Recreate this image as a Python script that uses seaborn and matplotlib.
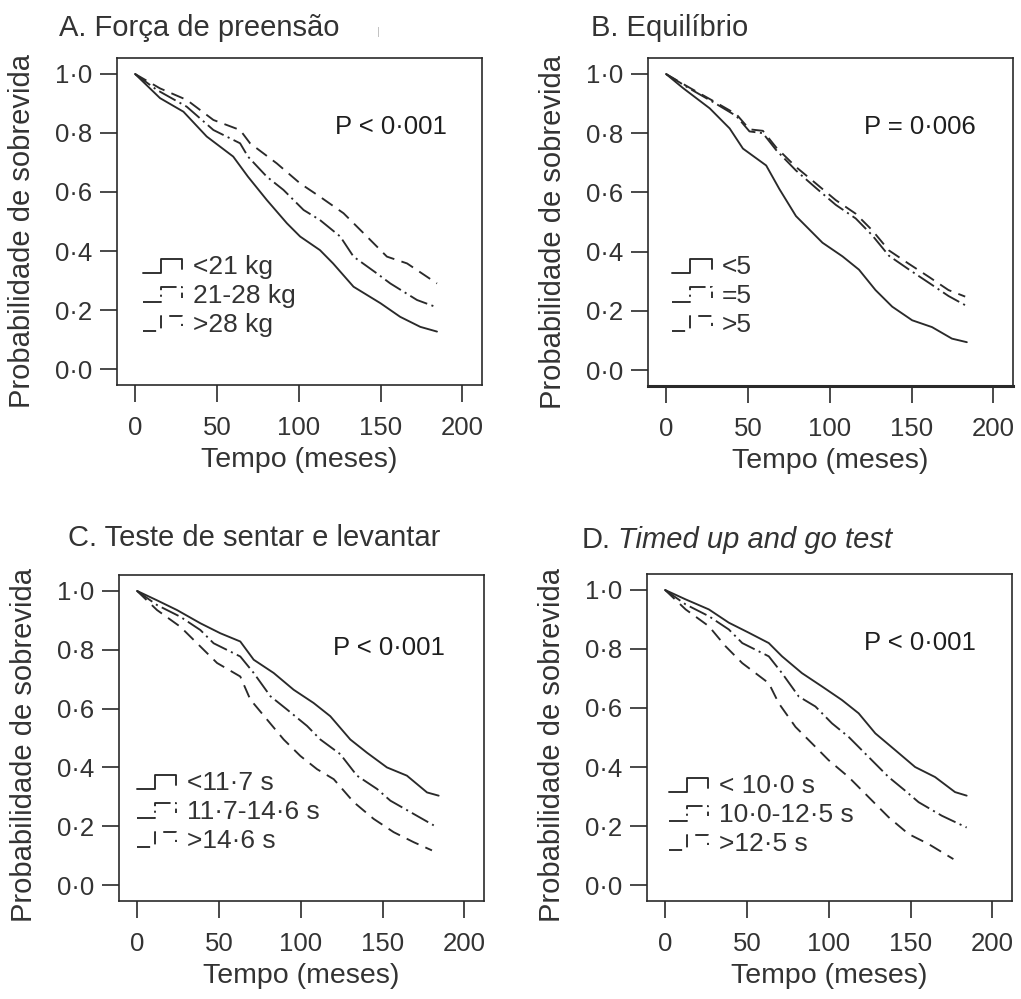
import matplotlib
matplotlib.use("Agg")
import matplotlib.pyplot as plt
import seaborn as sns
from matplotlib.legend_handler import HandlerBase
from matplotlib.lines import Line2D

# ---------------- data ----------------
# Panel A: Força de preensão
a_lbl = ["<21 kg", "21-28 kg", ">28 kg"]
a1_t = [0, 15.3, 29.6, 43.8, 60, 69, 80.5, 92.8, 100.9, 113, 121, 133.5, 150, 162, 174.3, 184.5]
a1_s = [1.0, 0.918, 0.872, 0.788, 0.72, 0.652, 0.573, 0.494, 0.449, 0.403, 0.358, 0.279, 0.223, 0.177, 0.143, 0.127]
a2_t = [0, 13.3, 31.6, 47.9, 64.2, 69, 80.5, 90.7, 103, 113, 125.4, 133.5, 147.8, 156, 172.3, 183.5]
a2_s = [1.0, 0.946, 0.889, 0.81, 0.765, 0.72, 0.652, 0.607, 0.539, 0.505, 0.449, 0.381, 0.324, 0.29, 0.234, 0.211]
a3_t = [0, 15.3, 31.6, 47.9, 64.2, 70.3, 86.6, 100.9, 113, 127.4, 141.7, 153.9, 166.2, 184.5]
a3_s = [1.0, 0.951, 0.912, 0.844, 0.81, 0.765, 0.697, 0.629, 0.584, 0.528, 0.449, 0.381, 0.358, 0.29]

# Panel B: Equilíbrio
b_lbl = ["<5", "=5", ">5"]
b1_t = [0, 10.5, 26.7, 38.9, 47, 61.2, 69.3, 79.4, 87.5, 95.6, 107.8, 117.9, 128, 138.2, 150.4, 162.5, 174.7, 183.8]
b1_s = [1.0, 0.952, 0.884, 0.816, 0.748, 0.691, 0.611, 0.52, 0.475, 0.43, 0.384, 0.339, 0.27, 0.214, 0.168, 0.145, 0.106, 0.094]
b2_t = [0, 14.6, 28.8, 43, 51, 59.2, 67.3, 79.4, 91.6, 103.7, 115.9, 126, 136.2, 148.3, 160.5, 172.6, 182.8]
b2_s = [1.0, 0.95, 0.905, 0.858, 0.806, 0.8, 0.743, 0.674, 0.615, 0.558, 0.512, 0.455, 0.386, 0.34, 0.295, 0.25, 0.219]
b3_t = [0, 14.6, 28.8, 43, 51, 59.2, 67.3, 79.4, 91.6, 103.7, 115.9, 126, 136.2, 148.3, 160.5, 172.6, 182.8]
b3_s = [1.0, 0.953, 0.909, 0.864, 0.813, 0.808, 0.752, 0.686, 0.63, 0.574, 0.528, 0.472, 0.404, 0.359, 0.315, 0.27, 0.248]

# Panel C: Teste de sentar e levantar
c_lbl = ["<11·7 s", "11·7-14·6 s", ">14·6 s"]
c1_t = [0, 12.2, 24.4, 38.7, 50.9, 63.1, 71.3, 83.5, 95.7, 107.9, 118.1, 130.3, 140.5, 152.7, 164.9, 177.2, 184.3]
c1_s = [1.0, 0.968, 0.935, 0.89, 0.856, 0.828, 0.766, 0.721, 0.664, 0.619, 0.574, 0.495, 0.45, 0.4, 0.372, 0.315, 0.304]
c2_t = [0, 12.2, 26.5, 38.7, 46.8, 63.1, 71.3, 81.5, 91.6, 103.9, 112, 124.2, 134.4, 146.6, 154.8, 169, 181.3]
c2_s = [1.0, 0.952, 0.912, 0.867, 0.822, 0.777, 0.721, 0.642, 0.597, 0.541, 0.495, 0.445, 0.372, 0.327, 0.287, 0.242, 0.203]
c3_t = [0, 12.2, 26.5, 36.7, 48.9, 63.1, 69.2, 79.4, 89.6, 99.8, 110, 120.2, 132.4, 144.6, 156.8, 169, 180.2]
c3_s = [1.0, 0.935, 0.878, 0.822, 0.755, 0.709, 0.631, 0.563, 0.495, 0.439, 0.394, 0.36, 0.282, 0.225, 0.18, 0.146, 0.118]

# Panel D: Timed up and go test
d_lbl = ["< 10·0 s", "10·0-12·5 s", ">12·5 s"]
d1_t = [0, 12.6, 26.8, 39, 51.2, 63.4, 71.5, 83.7, 95.9, 108.1, 118.3, 128.5, 140.7, 152.8, 165, 177.2, 184.3]
d1_s = [1.0, 0.968, 0.934, 0.889, 0.855, 0.82, 0.775, 0.718, 0.673, 0.627, 0.582, 0.514, 0.457, 0.4, 0.366, 0.315, 0.303]
d2_t = [0, 12.6, 26.8, 39, 47.2, 63.4, 71.5, 81.7, 91.9, 102, 112.2, 124.4, 136.6, 146.7, 154.9, 169.1, 184.3]
d2_s = [1.0, 0.951, 0.911, 0.866, 0.82, 0.775, 0.718, 0.639, 0.605, 0.548, 0.502, 0.434, 0.366, 0.32, 0.281, 0.235, 0.195]
d3_t = [0, 12.6, 26.8, 37, 47.2, 63.4, 69.5, 79.7, 89.8, 100, 112.2, 124.4, 136.6, 148.8, 161, 176.2]
d3_s = [1.0, 0.934, 0.877, 0.809, 0.752, 0.684, 0.616, 0.536, 0.48, 0.423, 0.366, 0.298, 0.23, 0.173, 0.139, 0.088]

titles = ["A. Força de preensão", "B. Equilíbrio", "C. Teste de sentar e levantar", "D."]
title_italic_d = "Timed up and go test"
p_texts = ["P < 0·001", "P = 0·006", "P < 0·001", "P < 0·001"]
x_ticks = [0, 50, 100, 150, 200]
x_ticklabels = ["0", "50", "100", "150", "200"]
y_ticks = [0.0, 0.2, 0.4, 0.6, 0.8, 1.0]
y_ticklabels = ["0·0", "0·2", "0·4", "0·6", "0·8", "1·0"]
x_label = "Tempo (meses)"
y_label = "Probabilidade de sobrevida"

# ---------------- styling ----------------
sns.set_theme(style="ticks")
plt.rcParams["font.family"] = ["Liberation Sans", "DejaVu Sans"]
TXT = "#333333"
LINE = "#2a2a2a"
W, H = 1021, 999
LW = 1.35
styles = ["-", (0, (10, 2.4, 1.1, 2.4)), (0, (7, 4))]

FS_TICK = 18.5
FS_LAB = 20.5
FS_YLAB = 21
FS_TITLE = 21
FS_LEG = 19
FS_P = 18.5


class StepHandler(HandlerBase):
    def create_artists(self, legend, orig_handle, xdescent, ydescent,
                       width, height, fontsize, trans):
        x0, y0 = -xdescent, -ydescent
        xm = x0 + 0.45 * width
        xs = [x0, xm, xm, x0 + width, x0 + width]
        ys = [y0 + 0.05 * height, y0 + 0.05 * height, y0 + 0.85 * height,
              y0 + 0.85 * height, y0 + 0.3 * height]
        line = Line2D(xs, ys)
        self.update_prop(line, orig_handle, legend)
        line.set_transform(trans)
        return [line]


fig = plt.figure(figsize=(W / 100, H / 100), dpi=100)
fig.patch.set_facecolor("white")

# axes boxes in pixels: left, top, right, bottom
boxes = [(117, 58, 482, 385), (648, 58, 1013, 386), (119, 575, 484, 901), (647, 574, 1012, 901)]
series = [
    [(a1_t, a1_s), (a2_t, a2_s), (a3_t, a3_s)],
    [(b1_t, b1_s), (b2_t, b2_s), (b3_t, b3_s)],
    [(c1_t, c1_s), (c2_t, c2_s), (c3_t, c3_s)],
    [(d1_t, d1_s), (d2_t, d2_s), (d3_t, d3_s)],
]
labels = [a_lbl, b_lbl, c_lbl, d_lbl]
title_pos = [(59, 28), (591, 28), (68, 538), (582, 540)]
p_pos = [(0.75, 0.789), (0.745, 0.79), (0.74, 0.776), (0.748, 0.789)]
leg_pos = [(0.071, 0.272), (0.066, 0.274), (0.049, 0.273), (0.06, 0.263)]
ylab_y = [0.47, 0.47, 0.479, 0.477]

for i in range(4):
    l, t, r, b = boxes[i]
    ax = fig.add_axes([l / W, 1 - b / H, (r - l) / W, (b - t) / H])
    ax.set_facecolor("white")
    handles = []
    for (tt, ss), ls in zip(series[i], styles):
        sns.lineplot(x=tt, y=ss, ax=ax, color=LINE, linewidth=LW, linestyle=ls,
                     estimator=None, sort=False, legend=False)
        handles.append(ax.lines[-1])
    ax.set_xlim(-11, 212)
    ax.set_ylim(-0.054, 1.054)
    ax.set_xticks(x_ticks)
    ax.set_xticklabels(x_ticklabels)
    ax.set_yticks(y_ticks)
    ax.set_yticklabels(y_ticklabels)
    ax.tick_params(axis="both", direction="out", length=12, width=1.2,
                   color=LINE, labelcolor=TXT, labelsize=FS_TICK)
    ax.tick_params(axis="x", pad=10)
    ax.tick_params(axis="y", pad=6)
    for sp in ax.spines.values():
        sp.set_visible(True)
        sp.set_color(LINE)
        sp.set_linewidth(1.2)
    if i == 1:
        ax.spines["bottom"].set_linewidth(2.2)
    ax.set_xlabel(x_label, fontsize=FS_LAB, color=TXT)
    ax.set_ylabel(y_label, fontsize=FS_YLAB, color=TXT)
    ax.xaxis.set_label_coords(0.5, -0.19)
    ax.yaxis.set_label_coords(-0.222, ylab_y[i])
    ax.text(p_pos[i][0], p_pos[i][1], p_texts[i], transform=ax.transAxes,
            ha="center", va="center", fontsize=FS_P, color="#1e1e1e")
    ax.legend(handles, labels[i], handler_map={Line2D: StepHandler()},
              loc="center left", bbox_to_anchor=leg_pos[i], frameon=False,
              fontsize=FS_LEG, handlelength=1.5, handleheight=0.7,
              handletextpad=0.4, labelspacing=0.18, borderpad=0, borderaxespad=0,
              labelcolor=TXT)
    tx, ty = title_pos[i]
    t1 = fig.text(tx / W, 1 - ty / H, titles[i], ha="left", va="center",
                  fontsize=FS_TITLE, color=TXT)
    if i == 3:
        ax.annotate(title_italic_d, xy=(1, 0), xycoords=t1, xytext=(5, 0),
                    textcoords="offset points", ha="left", va="bottom",
                    fontsize=FS_TITLE, color=TXT, style="italic",
                    annotation_clip=False)

# faint stray mark next to panel A title in the reference
fig.text(378 / W, 1 - 32 / H, "|", ha="center", va="center", fontsize=8, color="#bbbbbb")

fig.savefig("out.png", dpi=100, facecolor="white")
